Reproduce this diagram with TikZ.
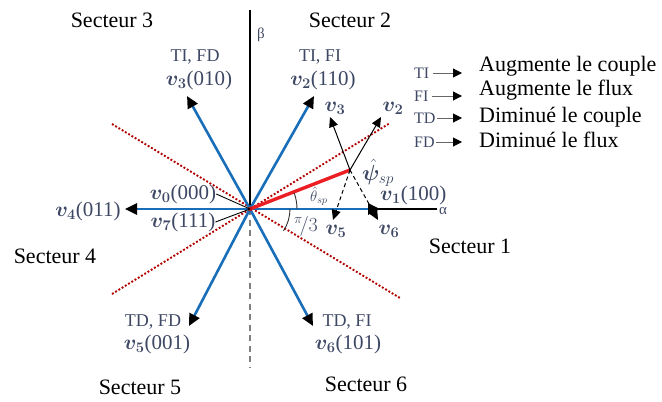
\RequirePackage{fix-cm}
\documentclass[tikz,border=0pt]{standalone}
\usepackage{fontspec}
\usepackage{amsmath,bm}
\setmainfont{Liberation Serif}
\usetikzlibrary{arrows.meta}
\definecolor{vblue}{RGB}{25,110,185}
\definecolor{slate}{RGB}{62,72,100}
\definecolor{dred}{RGB}{195,20,20}
\definecolor{fred}{RGB}{235,30,35}
\begin{document}
\begin{tikzpicture}[x=1pt,y=-1pt,
  big/.style={font=\fontsize{22}{26}\selectfont, inner sep=0pt},
  lab/.style={font=\fontsize{18}{20}\selectfont, text=slate, inner sep=0pt},
  vlab/.style={font=\fontsize{21}{24}\selectfont, text=slate, inner sep=0pt},
  small/.style={font=\fontsize{16}{18}\selectfont, text=slate, inner sep=0pt},
  vec/.style={vblue, line width=2.6pt, -{Triangle[length=12pt,width=11pt,color=black]}},
  sub/.style={black, line width=1pt, -{Triangle[length=10pt,width=9pt]}},
  subd/.style={black, line width=1pt, dash pattern=on 4pt off 3pt, -{Triangle[length=10pt,width=9pt]}},
  sect/.style={red!70!black, line width=1.9pt, dash pattern=on 1.9pt off 1.9pt},
  legarr/.style={black!60, line width=1pt, -{Triangle[length=9pt,width=9pt,color=black]}}
]
\useasboundingbox (0,0) rectangle (662,402);
\coordinate (O) at (250,209);
% axes
\coordinate (btop) at (250,10);
\coordinate (bbot) at (250,368);
\coordinate (aend) at (437,209);
\draw[black, line width=2pt] (O) -- (btop);
\draw[black!50, line width=1.6pt, dash pattern=on 6pt off 4.5pt] (O) -- (bbot);
\draw[black, line width=1.6pt] (O) -- (aend);
\node[font=\fontsize{15}{17}\selectfont, text=slate, inner sep=0pt] (beta) at (261,35) {β};
\node[font=\fontsize{15}{17}\selectfont, text=slate, inner sep=0pt] (alpha) at (443,211) {α};
% sector boundaries
\coordinate (s1a) at (112,124);
\coordinate (s1b) at (400,298);
\coordinate (s2a) at (112,294);
\coordinate (s2b) at (390,123);
\draw[sect] (s1a) -- (s1b);
\draw[sect] (s2a) -- (s2b);
% voltage vectors
\coordinate (V1) at (380,209);
\coordinate (V2) at (314,96);
\coordinate (V3) at (187,96);
\coordinate (V4) at (125,209);
\coordinate (V5) at (189,326);
\coordinate (V6) at (313,326);
\foreach \v in {V1,V2,V3,V4,V5,V6} \draw[vec] (O) -- (\v);
% flux vector
\coordinate (P) at (350,170);
\draw[fred, line width=3.4pt] (O) -- (P);
\draw[dred, fill=dred] (O) circle (2pt);
% small vectors
\coordinate (w3) at (330,117);
\coordinate (w2) at (381,117);
\coordinate (w5) at (333,220);
\coordinate (w6) at (378,220);
\draw[sub] (P) -- (w3);
\draw[sub] (P) -- (w2);
\draw[subd] (P) -- (w5);
\draw[subd] (P) -- (w6);
% arcs
\draw[black!80, line width=0.9pt] ([shift={(0:47)}]O) arc[start angle=0, end angle=-20, radius=47];
\draw[black!80, line width=0.9pt] ([shift={(0:40)}]O) arc[start angle=0, end angle=33, radius=40];
% labels
\node[lab] (l3a) at (195,57) {TI, FD};
\node[vlab] (l3b) at (199,80) {$\bm{v}_{\bm 3}$(010)};
\node[lab] (l2a) at (320,57) {TI, FI};
\node[vlab] (l2b) at (323,80) {$\bm{v}_{\bm 2}$(110)};
\node[lab] (l5a) at (153,322) {TD, FD};
\node[vlab] (l5b) at (157,344) {$\bm{v}_{\bm 5}$(001)};
\node[lab] (l6a) at (347,322) {TD, FI};
\node[vlab] (l6b) at (348,344) {$\bm{v}_{\bm 6}$(101)};
\node[vlab] (l4) at (88,211) {$\bm{v}_{\bm 4}$(011)};
\node[vlab] (l0) at (183,194) {$\bm{v}_{\bm 0}$(000)};
\node[vlab] (l7) at (183,222) {$\bm{v}_{\bm 7}$(111)};
\node[vlab, anchor=west] (l1) at (380,195) {$\bm{v}_{\bm 1}$(100)};
\draw[black, line width=0.9pt] (l0.east) -- (O);
\draw[black, line width=0.9pt] (l7.east) -- (O);
\node[vlab] (m3) at (335,108) {$\bm{v}_{\bm 3}$};
\node[vlab] (m2) at (393,108) {$\bm{v}_{\bm 2}$};
\node[vlab] (m5) at (336,231) {$\bm{v}_{\bm 5}$};
\node[vlab] (m6) at (389,231) {$\bm{v}_{\bm 6}$};
\node[font=\fontsize{22}{24}\selectfont, text=slate, inner sep=0pt] (psi) at (378,173) {$\hat{\bm\psi}_{sp}$};
\node[font=\fontsize{15}{17}\selectfont, text=slate, inner sep=0pt] (theta) at (319,196) {$\hat\theta_{sp}$};
\node[font=\fontsize{20}{22}\selectfont, text=slate, inner sep=0pt] (pi3) at (306,226) {$^{\pi}\!/3$};
% sectors
\node[big] (sec1) at (470,246) {Secteur 1};
\node[big] (sec2) at (350,20) {Secteur 2};
\node[big] (sec3) at (112,20) {Secteur 3};
\node[big] (sec4) at (55,256) {Secteur 4};
\node[big] (sec5) at (140,387) {Secteur 5};
\node[big] (sec6) at (366,384) {Secteur 6};
% legend
\node[small, anchor=west] (kTI) at (414,73) {TI};
\node[small, anchor=west] (kFI) at (414,96) {FI};
\node[small, anchor=west] (kTD) at (414,118) {TD};
\node[small, anchor=west] (kFD) at (414,142) {FD};
\node[big, anchor=west] (tTI) at (479,66) {Augmente le couple};
\node[big, anchor=west] (tFI) at (479,90) {Augmente le flux};
\node[big, anchor=west] (tTD) at (479,117) {Diminué le couple};
\node[big, anchor=west] (tFD) at (479,140) {Diminué le flux};
\coordinate (eTI) at (462,73);
\coordinate (eFI) at (462,96);
\coordinate (eTD) at (462,118);
\coordinate (eFD) at (462,142);
\draw[legarr] ([xshift=3pt]kTI.east) -- (eTI);
\draw[legarr] ([xshift=3pt]kFI.east) -- (eFI);
\draw[legarr] ([xshift=1pt]kTD.east) -- (eTD);
\draw[legarr] ([xshift=1pt]kFD.east) -- (eFD);
\end{tikzpicture}
\end{document}
